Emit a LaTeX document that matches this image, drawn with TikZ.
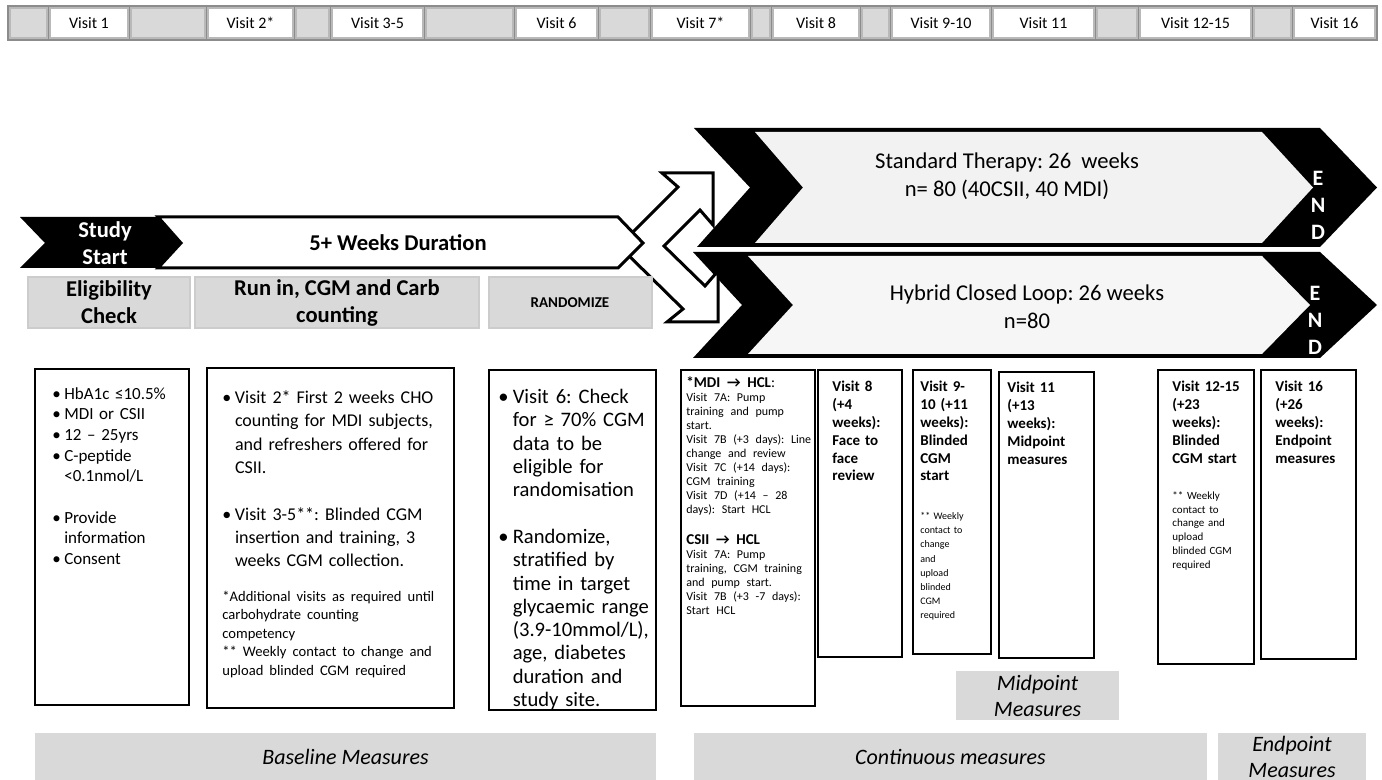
\documentclass[tikz,border=0pt]{standalone}
\usepackage{fontspec}
\setmainfont{Carlito}
\frenchspacing
\definecolor{boxgray}{HTML}{D9D9D9}
\definecolor{barline}{HTML}{8C8C8C}
\definecolor{bandlight}{HTML}{F2F2F2}
\definecolor{bandhatch}{HTML}{F6F6F6}
\newcommand{\bul}{\par\hangindent=0.7em\hangafter=1\noindent\makebox[0.7em][l]{\textbullet}}
\newcommand{\nl}{\newline}
\newcommand{\visithead}{\fontsize{7.5}{8.9}\selectfont\bfseries}
\newcommand{\visitnote}{\fontsize{5.0}{7.1}\selectfont}
\newcommand{\armnote}{\fontsize{6.0}{7.0}\selectfont}
\tikzset{
  cellw/.style={fill=white, draw=gray!55, line width=0.6pt},
  cellg/.style={fill=boxgray, draw=gray!55, line width=0.6pt},
  bartxt/.style={font=\fontsize{8}{9}\selectfont},
  arrowline/.style={draw=black, fill=white, line width=1.5pt, line join=miter},
  lblbox/.style={fill=boxgray, draw=gray!40, line width=0.8pt},
  bigbold/.style={font=\fontsize{11.3}{13.5}\selectfont\bfseries, align=center},
  bandtxt/.style={font=\fontsize{11.3}{13.8}\selectfont, align=center},
  endtxt/.style={font=\fontsize{11}{13.5}\selectfont\bfseries, text=white, align=center},
  txtbox/.style={draw=black, line width=0.8pt},
  intxt/.style={anchor=north west, inner sep=0pt},
  measure/.style={fill=boxgray},
  meastxt/.style={font=\fontsize{11}{12.8}\selectfont\itshape, align=center},
}
\begin{document}
\frenchspacing
\begin{tikzpicture}[x=0.5pt,y=-0.5pt]
\useasboundingbox (0,0) rectangle (1382,780);

% visit bar
\fill[barline] (7,5) rectangle (1378,41);
\draw[cellg] (10,8) rectangle (47,38);
\draw[cellw] (50,8) rectangle (128,38);
\node[bartxt] (v1) at (89,23) {Visit 1};
\draw[cellg] (131,8) rectangle (205,38);
\draw[cellw] (208,8) rectangle (293,38);
\node[bartxt] (v2) at (250.5,23) {Visit 2*};
\draw[cellg] (296,8) rectangle (329,38);
\draw[cellw] (332,8) rectangle (423,38);
\node[bartxt] (v3) at (377.5,23) {Visit 3-5};
\draw[cellg] (426,8) rectangle (513,38);
\draw[cellw] (516,8) rectangle (597,38);
\node[bartxt] (v6) at (556.5,23) {Visit 6};
\draw[cellg] (600,8) rectangle (649,38);
\draw[cellw] (652,8) rectangle (749,38);
\node[bartxt] (v7) at (700.5,23) {Visit 7*};
\draw[cellg] (752,8) rectangle (770,38);
\draw[cellw] (773,8) rectangle (859,38);
\node[bartxt] (v8) at (816,23) {Visit 8};
\draw[cellg] (862,8) rectangle (889,38);
\draw[cellw] (892,8) rectangle (990,38);
\node[bartxt] (v9) at (941,23) {Visit 9-10};
\draw[cellw] (993,8) rectangle (1094,38);
\node[bartxt] (v11) at (1043.5,23) {Visit 11};
\draw[cellg] (1097,8) rectangle (1137,38);
\draw[cellw] (1140,8) rectangle (1251,38);
\node[bartxt] (v12) at (1195.5,23) {Visit 12-15};
\draw[cellg] (1254,8) rectangle (1291,38);
\draw[cellw] (1294,8) rectangle (1375,38);
\node[bartxt] (v16) at (1334.5,23) {Visit 16};

% two arms
\fill (694,128) -- (1320,128) -- (1377,187.5) -- (1320,247) -- (697,247) -- (750,187.5) -- cycle;
\fill[bandlight] (755,132) -- (1262,132) -- (1313,187.5) -- (1262,243) -- (755,243) -- (803,187.5) -- cycle;
\node[bandtxt] (std) at (1007,176) {Standard Therapy: 26 \ weeks\\n= 80 (40CSII, 40 MDI)};
\node[endtxt] (end1) at (1318,205) {E\\N\\D};
\fill (693,252) -- (1320,252) -- (1377,305) -- (1320,358) -- (693,358) -- (742,305) -- cycle;
\fill[bandhatch] (748,256) -- (1262,256) -- (1310,305) -- (1262,354) -- (748,354) -- (793,305) -- cycle;
\node[bandtxt] (hcl) at (1027,307) {Hybrid Closed Loop: 26 weeks\\n=80};
\node[endtxt] (end2) at (1315,320) {E\\N\\D};

% split
\draw[arrowline] (619,246) -- (678,187) -- (662,173) -- (713,173) -- (713,225) -- (700,210)
  -- (664,246) -- (705,286) -- (718,271) -- (718,322) -- (667,322) -- (683,309) -- cycle;

% run-in arrow
\draw[arrowline] (158,217) -- (618,217) -- (643,243) -- (618,268) -- (158,268) -- (181,243) -- cycle;
\fill (20,217) -- (158,217) -- (181,243) -- (158,268) -- (20,268) -- (45,243) -- cycle;
\node[bigbold, text=white] (start) at (105,243) {Study\\Start};
\node[bigbold] (runarrow) at (398,243) {5+ Weeks Duration};

% phase labels
\draw[lblbox] (28,277) rectangle (190,328);
\node[bigbold] (elig) at (109,302.5) {Eligibility\\Check};
\draw[lblbox] (195,277) rectangle (479,328);
\node[bigbold] (runin) at (337,302.5) {Run in, CGM and Carb\\counting};
\draw[lblbox] (489,277) rectangle (652,328);
\node[font=\fontsize{7.5}{9}\selectfont\bfseries] (rand) at (570,302.5) {RANDOMIZE};

% detail boxes
\draw[txtbox] (35,369) rectangle (189,705);
\node[intxt, text width=66pt, font=\fontsize{8.5}{10.35}\selectfont] (crit) at (52,378) {%
\bul HbA1c ≤10.5\%
\bul MDI or CSII
\bul 12 – 25yrs
\bul C-peptide\nl <0.1nmol/L
\par\vspace{10.35pt}
\bul Provide\nl information
\bul Consent\par};

\draw[txtbox] (207,368) rectangle (454,708);
\node[intxt, text width=118pt, font=\fontsize{9.0}{11.65}\selectfont] (runtxt) at (222,380) {%
\bul Visit 2* First 2 weeks CHO\nl counting for MDI subjects,\nl and refreshers offered for\nl CSII.
\par\vspace{11.65pt}
\bul Visit 3-5**: Blinded CGM\nl insertion and training, 3\nl weeks CGM collection.
\par\vspace{8pt}
{\fontsize{7.3}{9.25}\selectfont\noindent *Additional visits as required until\nl carbohydrate counting\nl competency\nl ** Weekly contact to change and\nl upload blinded CGM required\par}};

\draw[txtbox] (489,370) rectangle (656,710);
\node[intxt, text width=82pt, font=\fontsize{10.3}{11.65}\selectfont] (randtxt) at (498,380) {%
\bul Visit 6: Check\nl for ≥ 70\% CGM\nl data to be\nl eligible for\nl randomisation
\par\vspace{11.65pt}
\bul Randomize,\nl stratified by\nl time in target\nl glycaemic range\nl (3.9-10mmol/L),\nl age, diabetes\nl duration and\nl study site.\par};

\draw[txtbox] (681,370) rectangle (815,706);
\node[intxt, text width=75pt] (v7txt) at (686,376) {%
{\visithead\noindent *MDI → HCL\mdseries:\par}
{\armnote\noindent Visit 7A: Pump\nl training and pump\nl start.\nl Visit 7B (+3 days): Line\nl change and review\nl Visit 7C (+14 days):\nl CGM training\nl Visit 7D (+14 – 28\nl days): Start HCL\par}
\vspace{7pt}
{\visithead\noindent CSII → HCL\par}
{\armnote\noindent Visit 7A: Pump\nl training, CGM training\nl and pump start.\nl Visit 7B (+3 -7 days):\nl Start HCL\par}};

\draw[txtbox] (818,370) rectangle (902,657);
\node[intxt, text width=40pt, font=\visithead] (v8txt) at (832,381) {Visit 8\nl (+4\nl weeks):\nl Face to\nl face\nl review};

\draw[txtbox] (913,370) rectangle (991,654);
\node[intxt, text width=40pt, font=\visithead] (v9txt) at (920,381) {Visit 9-\nl 10 (+11\nl weeks):\nl Blinded\nl CGM\nl start};
\node[intxt, text width=40pt, font=\visitnote] (v9note) at (920,512) {** Weekly\nl contact to\nl change\nl and\nl upload\nl blinded\nl CGM\nl required};

\draw[txtbox] (999,372) rectangle (1094,658);
\node[intxt, text width=45pt, font=\visithead] (v11txt) at (1007,382) {Visit 11\nl (+13\nl weeks):\nl Midpoint\nl measures};

\draw[txtbox] (1158,370) rectangle (1254,664);
\node[intxt, text width=45pt, font=\visithead] (v12txt) at (1172,381) {Visit 12-15\nl (+23\nl weeks):\nl Blinded\nl CGM start};
\node[intxt, text width=45pt, font=\fontsize{5.5}{6.9}\selectfont] (v12note) at (1172,491) {** Weekly\nl contact to\nl change and\nl upload\nl blinded CGM\nl required};

\draw[txtbox] (1261,370) rectangle (1356,659);
\node[intxt, text width=45pt, font=\visithead] (v16txt) at (1275,381) {Visit 16\nl (+26\nl weeks):\nl Endpoint\nl measures};

% measures
\fill[measure] (956,671) rectangle (1119,720);
\node[meastxt] (midm) at (1037.5,696) {Midpoint\\Measures};
\fill[measure] (35,733) rectangle (656,780);
\node[meastxt] (basem) at (345.5,757) {Baseline Measures};
\fill[measure] (694,733) rectangle (1207,780);
\node[meastxt] (contm) at (950.5,757) {Continuous measures};
\fill[measure] (1218,733) rectangle (1366,780);
\node[meastxt] (endm) at (1292,757) {Endpoint\\Measures};
\end{tikzpicture}
\end{document}
